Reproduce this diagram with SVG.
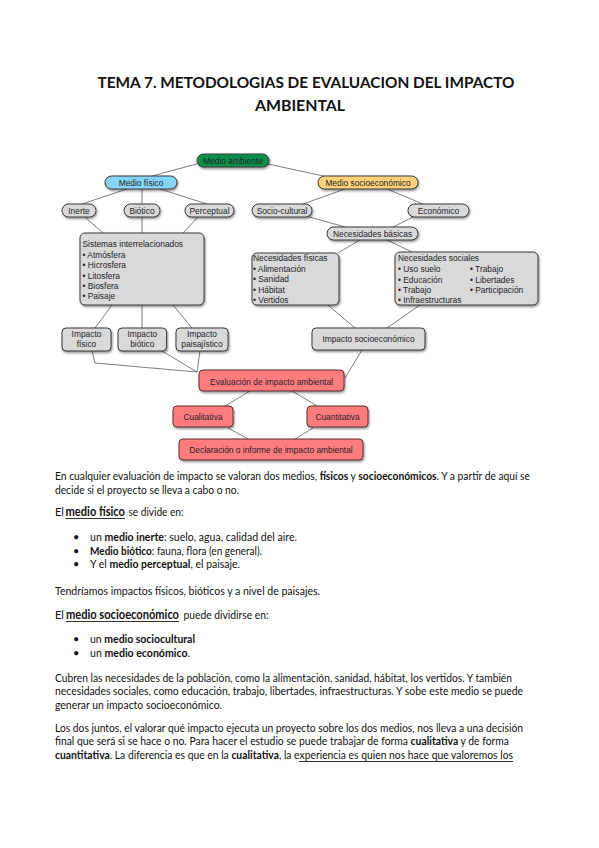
<svg xmlns="http://www.w3.org/2000/svg" width="599" height="848" viewBox="0 0 599 848">
<defs>
<filter id="sh" x="-10%" y="-20%" width="130%" height="160%">
<feDropShadow dx="1" dy="1.5" stdDeviation="0.8" flood-color="#000" flood-opacity="0.45"/>
</filter>
</defs>
<style>
.n rect{stroke:#3a3a3a;stroke-width:1;filter:url(#sh)}
.g rect{fill:#d9d9d9}
.r rect{fill:#ff7b7b;stroke:#5a3030}
.n text{font-family:"Liberation Sans",Arial,sans-serif;font-size:8.4px;fill:#1e1e28}
.c{text-anchor:middle}
.conn line,.conn polyline{stroke:#5a5a5a;stroke-width:0.8;fill:none}
.t{font-family:Lato,"Liberation Sans",sans-serif;font-size:11px;fill:#111}
.b{font-weight:bold}
.ttl{font-family:Lato,"Liberation Sans",sans-serif;font-size:15px;font-weight:bold;fill:#111;text-anchor:middle}
.ul{stroke:#333;stroke-width:1}
</style>
<rect width="599" height="848" fill="#fff"/>
<text class="ttl" x="306" y="88" textLength="417" lengthAdjust="spacingAndGlyphs">TEMA 7. METODOLOGIAS DE EVALUACION DEL IMPACTO</text>
<text class="ttl" x="300" y="111" textLength="90" lengthAdjust="spacingAndGlyphs">AMBIENTAL</text>

<g class="conn">
<line x1="200" y1="163" x2="152" y2="176"/>
<line x1="268" y1="164" x2="328" y2="177"/>
<line x1="127" y1="189" x2="82" y2="204"/>
<line x1="142" y1="189" x2="142" y2="204"/>
<line x1="160" y1="189" x2="207" y2="204"/>
<line x1="345" y1="189" x2="303" y2="204"/>
<line x1="387" y1="189" x2="423" y2="204"/>
<line x1="85" y1="217" x2="103" y2="233"/>
<line x1="142" y1="217" x2="142" y2="233"/>
<line x1="198" y1="217" x2="183" y2="233"/>
<line x1="306" y1="216" x2="345" y2="227"/>
<line x1="413" y1="217" x2="393" y2="227"/>
<line x1="360" y1="240" x2="338" y2="253"/>
<line x1="387" y1="240" x2="412" y2="252"/>
<line x1="112" y1="305" x2="95" y2="328"/>
<line x1="142" y1="305" x2="142" y2="328"/>
<line x1="173" y1="305" x2="192" y2="328"/>
<line x1="328" y1="305" x2="355" y2="328"/>
<line x1="420" y1="305" x2="387" y2="328"/>
<polyline points="92,351 95,363 197,372"/>
<line x1="162" y1="351" x2="197" y2="372"/>
<line x1="200" y1="351" x2="197" y2="372"/>
<line x1="362" y1="350" x2="345" y2="378"/>
<line x1="250" y1="391" x2="225" y2="406"/>
<line x1="292" y1="391" x2="317" y2="406"/>
<line x1="228" y1="428" x2="248" y2="439"/>
<line x1="313" y1="428" x2="295" y2="439"/>
</g>

<g id="medio-ambiente" class="n"><rect x="197" y="154" width="72" height="13" rx="6.5" fill="#109048"/><text class="c" x="233" y="163.5">Medio ambiente</text></g>
<g id="medio-fisico" class="n"><rect x="105" y="176" width="72" height="13" rx="6.5" fill="#86d5f8"/><text class="c" x="141" y="185.5">Medio físico</text></g>
<g id="medio-socioeconomico" class="n"><rect x="318" y="176" width="100" height="13" rx="6.5" fill="#ffd27a"/><text class="c" x="368" y="185.5">Medio socioeconómico</text></g>
<g id="inerte" class="n g"><rect x="62" y="204" width="34" height="13" rx="6.5"/><text class="c" x="79" y="213.5">Inerte</text></g>
<g id="biotico" class="n g"><rect x="124" y="204" width="36" height="13" rx="6.5"/><text class="c" x="142" y="213.5">Biótico</text></g>
<g id="perceptual" class="n g"><rect x="185" y="204" width="49" height="13" rx="6.5"/><text class="c" x="209.5" y="213.5">Perceptual</text></g>
<g id="socio-cultural" class="n g"><rect x="252" y="204" width="60" height="13" rx="6.5"/><text class="c" x="282" y="213.5">Socio-cultural</text></g>
<g id="economico" class="n g"><rect x="408" y="204" width="61" height="13" rx="6.5"/><text class="c" x="438.5" y="213.5">Económico</text></g>
<g id="necesidades-basicas" class="n g"><rect x="327" y="227" width="91" height="13" rx="6.5"/><text class="c" x="372.5" y="236.5">Necesidades básicas</text></g>
<g id="sistemas" class="n g"><rect x="80" y="233" width="124" height="72" rx="5"/>
<text x="82.5" y="247.3">Sistemas interrelacionados</text>
<text x="82.5" y="258">• Atmósfera</text>
<text x="82.5" y="268.3">• Hicrosfera</text>
<text x="82.5" y="278.7">• Litosfera</text>
<text x="82.5" y="288.8">• Biosfera</text>
<text x="82.5" y="299">• Paisaje</text></g>
<g id="necesidades-fisicas" class="n g"><rect x="252" y="253" width="87" height="52" rx="5"/>
<text x="253" y="261.3">Necesidades físicas</text>
<text x="253" y="272">• Alimentación</text>
<text x="253" y="282.3">• Sanidad</text>
<text x="253" y="293">• Hábitat</text>
<text x="253" y="303.2">• Vertidos</text></g>
<g id="necesidades-sociales" class="n g"><rect x="395" y="252" width="143" height="53" rx="5"/>
<text x="398" y="261.3">Necesidades sociales</text>
<text x="398" y="272">• Uso suelo</text>
<text x="398" y="282.5">• Educación</text>
<text x="398" y="293">• Trabajo</text>
<text x="398" y="303.2">• Infraestructuras</text>
<text x="470" y="272">• Trabajo</text>
<text x="470" y="282.5">• Libertades</text>
<text x="470" y="293">• Participación</text></g>
<g id="impacto-fisico" class="n g"><rect x="62" y="328" width="49" height="23" rx="4"/><text class="c" x="86.5" y="337.3">Impacto</text><text class="c" x="86.5" y="347.3">físico</text></g>
<g id="impacto-biotico" class="n g"><rect x="118" y="328" width="48.5" height="23" rx="4"/><text class="c" x="142.3" y="337.3">Impacto</text><text class="c" x="142.3" y="347.3">biótico</text></g>
<g id="impacto-paisajistico" class="n g"><rect x="176" y="328" width="52" height="23" rx="4"/><text class="c" x="202" y="337.3">Impacto</text><text class="c" x="202" y="347.3">paisajístico</text></g>
<g id="impacto-socioeconomico" class="n g"><rect x="312" y="328" width="113" height="22" rx="4"/><text class="c" x="368.5" y="342.3">Impacto socioeconómico</text></g>
<g id="evaluacion" class="n r"><rect x="199" y="370" width="145" height="21" rx="4"/><text class="c" x="271.5" y="384.5">Evaluación de impacto ambiental</text></g>
<g id="cualitativa" class="n r"><rect x="173" y="406" width="60" height="21" rx="4"/><text class="c" x="203" y="419.5">Cualitativa</text></g>
<g id="cuantitativa" class="n r"><rect x="307" y="406" width="61" height="21" rx="4"/><text class="c" x="337.5" y="419.5">Cuantitativa</text></g>
<g id="declaracion" class="n r"><rect x="179" y="439" width="184" height="21" rx="4"/><text class="c" x="271" y="452.5">Declaración o informe de impacto ambiental</text></g>

<text class="t" x="55" y="479.5" textLength="475" lengthAdjust="spacingAndGlyphs">En cualquier evaluación de impacto se valoran dos medios, <tspan class="b">físicos</tspan> y <tspan class="b">socioeconómicos</tspan>. Y a partir de aquí se</text>
<text class="t" x="55" y="494" textLength="184" lengthAdjust="spacingAndGlyphs">decide si el proyecto se lleva a cabo o no.</text>

<text class="t" x="55" y="516">El</text>
<text class="t b" x="65.5" y="516" style="font-size:13px" textLength="59.5" lengthAdjust="spacingAndGlyphs">medio físico</text>
<line class="ul" x1="65.5" y1="518.5" x2="125" y2="518.5"/>
<text class="t" x="128.5" y="516" textLength="55" lengthAdjust="spacingAndGlyphs">se divide en:</text>

<text class="t" x="73" y="541">•</text>
<text class="t" x="90" y="541" textLength="207" lengthAdjust="spacingAndGlyphs">un <tspan class="b">medio inerte</tspan>: suelo, agua, calidad del aire.</text>
<text class="t" x="73" y="554.5">•</text>
<text class="t" x="90" y="554.5" textLength="172" lengthAdjust="spacingAndGlyphs"><tspan class="b">Medio biótico</tspan>: fauna, flora (en general).</text>
<text class="t" x="73" y="567.5">•</text>
<text class="t" x="90" y="567.5" textLength="150" lengthAdjust="spacingAndGlyphs">Y el <tspan class="b">medio perceptual</tspan>, el paisaje.</text>

<text class="t" x="55" y="595" textLength="265" lengthAdjust="spacingAndGlyphs">Tendríamos impactos físicos, bióticos y a nivel de paisajes.</text>

<text class="t" x="55" y="619">El</text>
<text class="t b" x="66" y="619" style="font-size:13px" textLength="113" lengthAdjust="spacingAndGlyphs">medio socioeconómico</text>
<line class="ul" x1="66" y1="621.5" x2="179" y2="621.5"/>
<text class="t" x="183.5" y="619" textLength="85" lengthAdjust="spacingAndGlyphs">puede dividirse en:</text>

<text class="t" x="73" y="642.5">•</text>
<text class="t" x="90" y="642.5" textLength="105" lengthAdjust="spacingAndGlyphs">un <tspan class="b">medio sociocultural</tspan></text>
<text class="t" x="73" y="656.5">•</text>
<text class="t" x="90" y="656.5" textLength="100" lengthAdjust="spacingAndGlyphs">un <tspan class="b">medio económico</tspan>.</text>

<text class="t" x="55" y="681.5" textLength="457" lengthAdjust="spacingAndGlyphs">Cubren las necesidades de la población, como la alimentación, sanidad, hábitat, los vertidos. Y también</text>
<text class="t" x="55" y="695" textLength="468" lengthAdjust="spacingAndGlyphs">necesidades sociales, como educación, trabajo, libertades, infraestructuras. Y sobe este medio se puede</text>
<text class="t" x="55" y="708.5" textLength="167" lengthAdjust="spacingAndGlyphs">generar un impacto socioeconómico.</text>

<text class="t" x="55" y="731.5" textLength="468" lengthAdjust="spacingAndGlyphs">Los dos juntos, el valorar qué impacto ejecuta un proyecto sobre los dos medios, nos lleva a una decisión</text>
<text class="t" x="55" y="745" textLength="454" lengthAdjust="spacingAndGlyphs">final que será si se hace o no. Para hacer el estudio se puede trabajar de forma <tspan class="b">cualitativa</tspan> y de forma</text>
<text class="t" x="55" y="759" textLength="458" lengthAdjust="spacingAndGlyphs"><tspan class="b">cuantitativa</tspan>. La diferencia es que en la <tspan class="b">cualitativa</tspan>, la experiencia es quien nos hace que valoremos los</text>
<line class="ul" x1="299" y1="761.5" x2="513" y2="761.5"/>
</svg>
